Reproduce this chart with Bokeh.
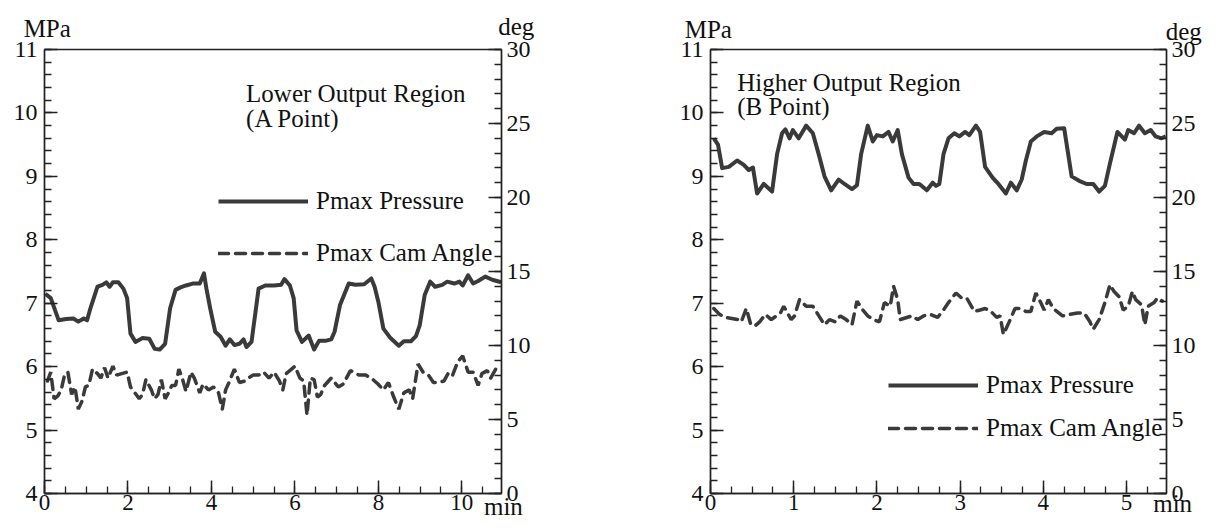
from bokeh.plotting import figure
from bokeh.models import Range1d, LinearAxis, SingleIntervalTicker, Label, Legend, LegendItem
from bokeh.core.properties import value
from bokeh.layouts import row
from bokeh.embed import file_html
from bokeh.resources import INLINE

FONT = "Liberation Serif"
INK = "#111111"
LINE = "#3a3a3a"

# ---------------- Panel A: Lower Output Region ----------------
a_press_t = [0.02, 0.15, 0.34, 0.52, 0.69, 0.81, 0.94, 1.02, 1.10, 1.27, 1.39, 1.48, 1.56, 1.64, 1.77,
             1.89, 1.98, 2.06, 2.18, 2.35, 2.51, 2.64, 2.76, 2.89, 3.01, 3.14, 3.26, 3.39, 3.55, 3.72,
             3.82, 3.88, 3.97, 4.09, 4.22, 4.34, 4.44, 4.55, 4.67, 4.77, 4.84, 4.96, 5.13, 5.29, 5.50,
             5.67, 5.75, 5.88, 5.97, 6.04, 6.17, 6.33, 6.46, 6.58, 6.75, 6.87, 6.95, 7.08, 7.29, 7.45,
             7.66, 7.83, 7.91, 8.00, 8.12, 8.29, 8.49, 8.61, 8.78, 8.90, 8.99, 9.11, 9.24, 9.36, 9.53,
             9.65, 9.82, 9.94, 10.02, 10.15, 10.27, 10.39, 10.56, 10.73, 10.94]
a_press = [7.15, 7.08, 6.73, 6.75, 6.76, 6.71, 6.76, 6.73, 6.92, 7.26, 7.29, 7.33, 7.26, 7.33, 7.33,
           7.23, 7.08, 6.52, 6.39, 6.45, 6.44, 6.28, 6.27, 6.36, 6.92, 7.21, 7.25, 7.28, 7.31, 7.31,
           7.47, 7.23, 6.92, 6.55, 6.47, 6.33, 6.43, 6.34, 6.36, 6.43, 6.31, 6.39, 7.23, 7.28, 7.28,
           7.29, 7.38, 7.28, 7.08, 6.57, 6.39, 6.49, 6.27, 6.41, 6.41, 6.43, 6.55, 6.97, 7.31, 7.29,
           7.30, 7.39, 7.26, 7.02, 6.60, 6.45, 6.33, 6.40, 6.40, 6.48, 6.65, 7.13, 7.34, 7.26, 7.29,
           7.34, 7.31, 7.34, 7.28, 7.44, 7.31, 7.35, 7.42, 7.37, 7.33]
a_cam_t = [0.07, 0.15, 0.23, 0.32, 0.40, 0.48, 0.56, 0.65, 0.73, 0.81,
           0.90, 0.98, 1.06, 1.15, 1.27, 1.35, 1.44, 1.52, 1.64, 1.73,
           1.85, 1.98, 2.06, 2.14, 2.27, 2.35, 2.43, 2.56, 2.64, 2.72,
           2.80, 2.89, 2.97, 3.05, 3.14, 3.22, 3.30, 3.39, 3.51, 3.59,
           3.72, 3.80, 3.93, 4.05, 4.17, 4.26, 4.34, 4.42, 4.55, 4.67,
           4.80, 4.88, 5.00, 5.13, 5.25, 5.38, 5.50, 5.63, 5.71, 5.79,
           5.92, 6.00, 6.12, 6.21, 6.29, 6.37, 6.46, 6.54, 6.62, 6.71,
           6.87, 7.04, 7.16, 7.33, 7.54, 7.70, 7.87, 7.99, 8.12, 8.24,
           8.37, 8.49, 8.61, 8.74, 8.82, 8.95, 9.07, 9.20, 9.32, 9.44,
           9.57, 9.69, 9.78, 9.90, 10.02, 10.15, 10.27, 10.39, 10.48, 10.61,
           10.69, 10.81, 10.94]
a_cam = [7.6, 8.2, 6.4, 6.6, 7.0, 8.0, 8.2, 6.7, 7.2, 5.7,
         6.25, 7.2, 7.3, 8.4, 8.1, 7.8, 8.5, 7.8, 8.6, 8.0,
         8.1, 8.2, 7.2, 6.9, 6.4, 6.7, 7.7, 7.0, 6.4, 6.7,
         7.7, 6.4, 6.8, 7.3, 7.3, 8.4, 7.8, 6.9, 8.2, 7.8,
         6.8, 7.4, 7.0, 7.2, 6.8, 5.7, 7.0, 7.5, 8.4, 7.5,
         7.6, 7.8, 8.0, 8.0, 8.2, 7.8, 8.2, 7.6, 7.0, 8.1,
         8.4, 8.6, 7.8, 7.6, 5.3, 7.8, 7.7, 6.5, 6.7, 7.3,
         7.8, 7.2, 7.4, 8.3, 8.0, 8.0, 7.7, 7.4, 7.0, 7.5,
         6.5, 5.7, 6.8, 7.0, 6.4, 8.75, 8.2, 8.0, 7.5, 7.5,
         7.6, 8.2, 8.0, 8.9, 9.3, 8.2, 8.2, 7.3, 8.1, 8.3,
         7.8, 8.4, 8.2]

# ---------------- Panel B: Higher Output Region ----------------
b_press_t = [0.04, 0.09, 0.14, 0.22, 0.32, 0.40, 0.46, 0.51, 0.56, 0.64, 0.74, 0.80, 0.86, 0.90, 0.95,
             0.99, 1.06, 1.15, 1.23, 1.30, 1.37, 1.45, 1.54, 1.61, 1.70, 1.76, 1.81, 1.89, 1.95, 2.00,
             2.07, 2.14, 2.19, 2.25, 2.30, 2.38, 2.44, 2.51, 2.60, 2.67, 2.71, 2.75, 2.80, 2.86, 2.93,
             2.99, 3.06, 3.11, 3.19, 3.24, 3.30, 3.39, 3.46, 3.55, 3.61, 3.68, 3.74, 3.79, 3.85, 3.92,
             4.01, 4.10, 4.16, 4.25, 4.34, 4.43, 4.52, 4.60, 4.67, 4.74, 4.80, 4.89, 4.98, 5.02, 5.09,
             5.15, 5.22, 5.29, 5.35, 5.42, 5.47]
b_press = [9.60, 9.50, 9.13, 9.15, 9.25, 9.18, 9.10, 9.14, 8.73, 8.88, 8.76, 9.35, 9.68, 9.74, 9.60,
           9.73, 9.60, 9.80, 9.68, 9.35, 9.00, 8.78, 8.95, 8.88, 8.80, 8.86, 9.35, 9.80, 9.55, 9.65,
           9.63, 9.70, 9.55, 9.73, 9.35, 8.98, 8.88, 8.88, 8.78, 8.90, 8.85, 8.88, 9.35, 9.60, 9.68,
           9.63, 9.70, 9.65, 9.80, 9.70, 9.15, 8.98, 8.88, 8.73, 8.90, 8.78, 8.95, 9.25, 9.55, 9.63,
           9.70, 9.68, 9.75, 9.76, 9.00, 8.93, 8.88, 8.88, 8.76, 8.85, 9.20, 9.70, 9.58, 9.73, 9.68,
           9.80, 9.68, 9.73, 9.63, 9.60, 9.63]
b_cam_t = [0.04, 0.11, 0.18, 0.33, 0.37, 0.43, 0.48, 0.53, 0.59, 0.66,
           0.73, 0.84, 0.88, 0.97, 1.01, 1.07, 1.15, 1.23, 1.37, 1.43,
           1.50, 1.56, 1.63, 1.70, 1.76, 1.83, 1.89, 1.96, 2.03, 2.09,
           2.16, 2.20, 2.25, 2.28, 2.42, 2.49, 2.56, 2.64, 2.73, 2.80,
           2.86, 2.95, 3.02, 3.08, 3.17, 3.24, 3.30, 3.37, 3.44, 3.48,
           3.52, 3.59, 3.66, 3.72, 3.79, 3.85, 3.91, 3.96, 4.01, 4.06,
           4.12, 4.23, 4.32, 4.41, 4.49, 4.56, 4.60, 4.67, 4.74, 4.80,
           4.85, 4.91, 4.96, 5.02, 5.07, 5.11, 5.18, 5.22, 5.26, 5.33,
           5.37, 5.43]
b_cam = [12.5, 12.1, 11.9, 11.75, 11.6, 12.5, 11.5, 11.3, 11.6, 12.1,
         11.75, 12.2, 12.65, 11.75, 12.0, 13.1, 12.65, 12.65, 11.4, 11.75,
         11.6, 12.0, 11.75, 11.4, 13.0, 12.4, 12.0, 11.75, 11.6, 12.9,
         12.65, 14.0, 13.1, 11.75, 12.0, 11.75, 12.0, 12.1, 11.9, 12.4,
         12.9, 13.55, 13.2, 13.2, 12.3, 12.4, 12.5, 12.3, 11.9, 12.0,
         10.75, 11.6, 12.5, 12.5, 12.3, 12.3, 13.55, 13.0, 12.4, 13.1,
         12.5, 12.0, 12.1, 12.2, 12.2, 11.6, 11.1, 11.75, 12.9, 14.1,
         13.65, 13.3, 12.4, 12.65, 13.65, 13.1, 12.75, 11.4, 12.65, 12.9,
         13.2, 13.0]

press_range = (4, 11)
deg_range = (0, 30)
legend_labels = ["Pmax Pressure", "Pmax Cam Angle"]
unit_texts = ["MPa", "deg", "min"]


def style_axis(ax, standoff, size="24px"):
    ax.major_tick_in = 13
    ax.major_tick_out = 0
    ax.minor_tick_in = 7
    ax.minor_tick_out = 0
    ax.axis_line_width = 1.5
    ax.axis_line_color = "#222222"
    ax.major_tick_line_width = 1.5
    ax.major_tick_line_color = "#222222"
    ax.minor_tick_line_width = 1.3
    ax.minor_tick_line_color = "#222222"
    ax.major_label_text_font = FONT
    ax.major_label_text_font_size = size
    ax.major_label_text_color = INK
    ax.major_label_standoff = standoff


def txt(p, x, y, s):
    p.add_layout(Label(x=x, y=y, text=s, text_font=FONT, text_font_size="25px",
                       text_color=INK, text_align="left", text_baseline="alphabetic"))


def panel(t_p, v_p, t_c, v_c, xmax, xint, width, bl, br, bt, bb, leg_loc, leg_spacing):
    p = figure(width=width, height=528, x_range=Range1d(0, xmax), y_range=Range1d(*press_range),
               output_backend="svg", toolbar_location=None,
               min_border_left=bl, min_border_right=br, min_border_top=bt, min_border_bottom=bb)
    p.extra_y_ranges = {"deg": Range1d(*deg_range)}
    p.xgrid.visible = False
    p.ygrid.visible = False
    p.outline_line_color = "#222222"
    p.outline_line_width = 1.3
    p.background_fill_color = "white"
    p.border_fill_color = "white"

    p.xaxis.ticker = SingleIntervalTicker(interval=xint, num_minor_ticks=4)
    p.yaxis.ticker = SingleIntervalTicker(interval=1, num_minor_ticks=5)
    style_axis(p.xaxis[0], 1, "23px")
    style_axis(p.yaxis[0], 7)

    rax = LinearAxis(y_range_name="deg", ticker=SingleIntervalTicker(interval=5, num_minor_ticks=5))
    style_axis(rax, 5)
    p.add_layout(rax, "right")

    r1 = p.line(t_p, v_p, line_color=LINE, line_width=4, line_join="round")
    r2 = p.line(t_c, v_c, y_range_name="deg", line_color=LINE, line_width=3.5,
                line_dash="10 7", line_cap="round")

    leg = Legend(items=[LegendItem(label=legend_labels[0], renderers=[r1]),
                        LegendItem(label=legend_labels[1], renderers=[r2])],
                 location=leg_loc, glyph_width=90, glyph_height=28, label_height=28,
                 label_standoff=8, spacing=leg_spacing, padding=0, margin=0,
                 border_line_color=None, background_fill_alpha=0,
                 label_text_font=FONT, label_text_font_size="25px", label_text_color=INK)
    p.add_layout(leg)
    return p


def unit_labels(p, xs, ys):
    # drawn as an overlay-level text glyph so it may sit outside the plot frame
    p.text(x=xs, y=ys, text=unit_texts, text_font=value("'Liberation Serif', serif"),
           text_font_size=value("25px"), text_color=INK, text_align="left",
           text_baseline="middle", level="overlay")


pa = panel(a_press_t, a_press, a_cam_t, a_cam, 10.95, 2, 553, 44, 52, 49, 10, (174, 226), 24)
txt(pa, 4.83, 10.30, "Lower Output Region")
txt(pa, 4.83, 9.91, "(A Point)")
unit_labels(pa, [-0.50, 10.87, 10.53], [11.33, 11.36, 3.80])

pb = panel(b_press_t, b_press, b_cam_t, b_cam, 5.48, 1, 655, 157, 42, 40, 35, (178, 51), 15)
txt(pb, 0.32, 10.475, "Higher Output Region")
txt(pb, 0.32, 10.10, "(B Point)")
unit_labels(pb, [-0.31, 5.47, 5.32], [11.31, 11.28, 3.85])

layout = row(pa, pb)
open("out.html", "w").write(file_html(layout, INLINE))
